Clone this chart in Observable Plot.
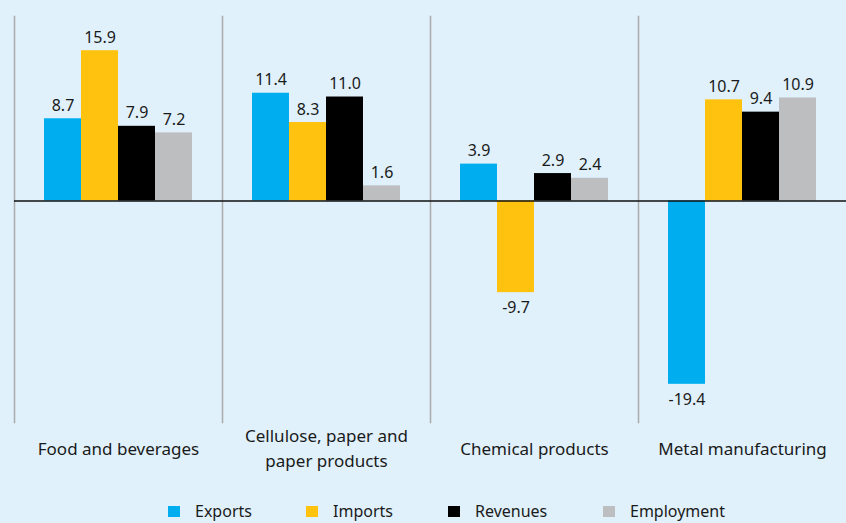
<!DOCTYPE html>
<html>
<head>
<meta charset="utf-8">
<script src="https://cdn.jsdelivr.net/npm/d3@7"></script>
<script src="https://cdn.jsdelivr.net/npm/@observablehq/plot@0.6"></script>
<style>
  html, body { margin: 0; padding: 0; background: #e0f1fb; width: 846px; height: 523px; overflow: hidden; }
  #chart { position: relative; width: 846px; height: 523px; }
  #legend { position: absolute; left: 0; top: 501px; font-family: "Noto Sans", sans-serif; font-size: 16px; line-height: 20px; color: #1a1a1a; }
  #legend .item { position: absolute; display: flex; align-items: center; white-space: nowrap; }
  #legend .sw { width: 12px; height: 11px; margin-right: 15px; }
</style>
</head>
<body>
<div id="chart"></div>
<script>
const categories = ["Food and beverages", "Cellulose, paper and paper products", "Chemical products", "Metal manufacturing"];
const categoryLabels = ["Food and beverages", "Cellulose, paper and\npaper products", "Chemical products", "Metal manufacturing"];
const series = ["Exports", "Imports", "Revenues", "Employment"];
const colors = ["#00aeef", "#ffc20e", "#000000", "#bcbec0"];
const exportsVals = [8.7, 11.4, 3.9, -19.4];
const importsVals = [15.9, 8.3, -9.7, 10.7];
const revenuesVals = [7.9, 11.0, 2.9, 9.4];
const employmentVals = [7.2, 1.6, 2.4, 10.9];
const legendX = [168, 306, 448, 603];

const valuesBySeries = [exportsVals, importsVals, revenuesVals, employmentVals];
const rows = [];
categories.forEach((c, i) => series.forEach((s, j) => rows.push({cat: c, series: s, value: valuesBySeries[j][i]})));

const font = "Noto Sans, sans-serif";
const plot = Plot.plot({
  width: 846,
  height: 490,
  marginLeft: 13,
  marginRight: 0,
  marginTop: 16,
  marginBottom: 68,
  style: {background: "transparent", fontFamily: font, fontSize: "16px", color: "#1a1a1a"},
  fx: {domain: categories, padding: 0, axis: null},
  x: {domain: series, paddingInner: 0, paddingOuter: 0.77, axis: null},
  y: {domain: [-23.44, 19.52], axis: null},
  color: {domain: series, range: colors},
  marks: [
    Plot.frame({anchor: "left", stroke: "#ababab", strokeWidth: 1.5}),
    Plot.barY(rows, {fx: "cat", x: "series", y: "value", fill: "series", inset: 0}),
    Plot.ruleY([0], {stroke: "#111", strokeWidth: 1.5}),
    Plot.text(rows.filter(d => d.value >= 0), {fx: "cat", x: "series", y: "value", text: d => d.value.toFixed(1), lineAnchor: "bottom", dy: -8, fill: "#1a1a1a", fontSize: 16}),
    Plot.text(rows.filter(d => d.value < 0), {fx: "cat", x: "series", y: "value", text: d => d.value.toFixed(1), lineAnchor: "top", dy: 9, fill: "#1a1a1a", fontSize: 16}),
    Plot.text(categories, {fx: d => d, text: (d, i) => categoryLabels[i], frameAnchor: "bottom", dy: 24, lineAnchor: "middle", fill: "#1a1a1a", fontSize: 17, lineHeight: 1.5})
  ]
});
const chart = document.getElementById("chart");
chart.appendChild(plot);

const legend = document.createElement("div");
legend.id = "legend";
series.forEach((s, i) => {
  const item = document.createElement("div");
  item.className = "item";
  item.style.left = legendX[i] + "px";
  const sw = document.createElement("span");
  sw.className = "sw";
  sw.style.background = colors[i];
  const lab = document.createElement("span");
  lab.textContent = s;
  item.appendChild(sw);
  item.appendChild(lab);
  legend.appendChild(item);
});
chart.appendChild(legend);
</script>
</body>
</html>
